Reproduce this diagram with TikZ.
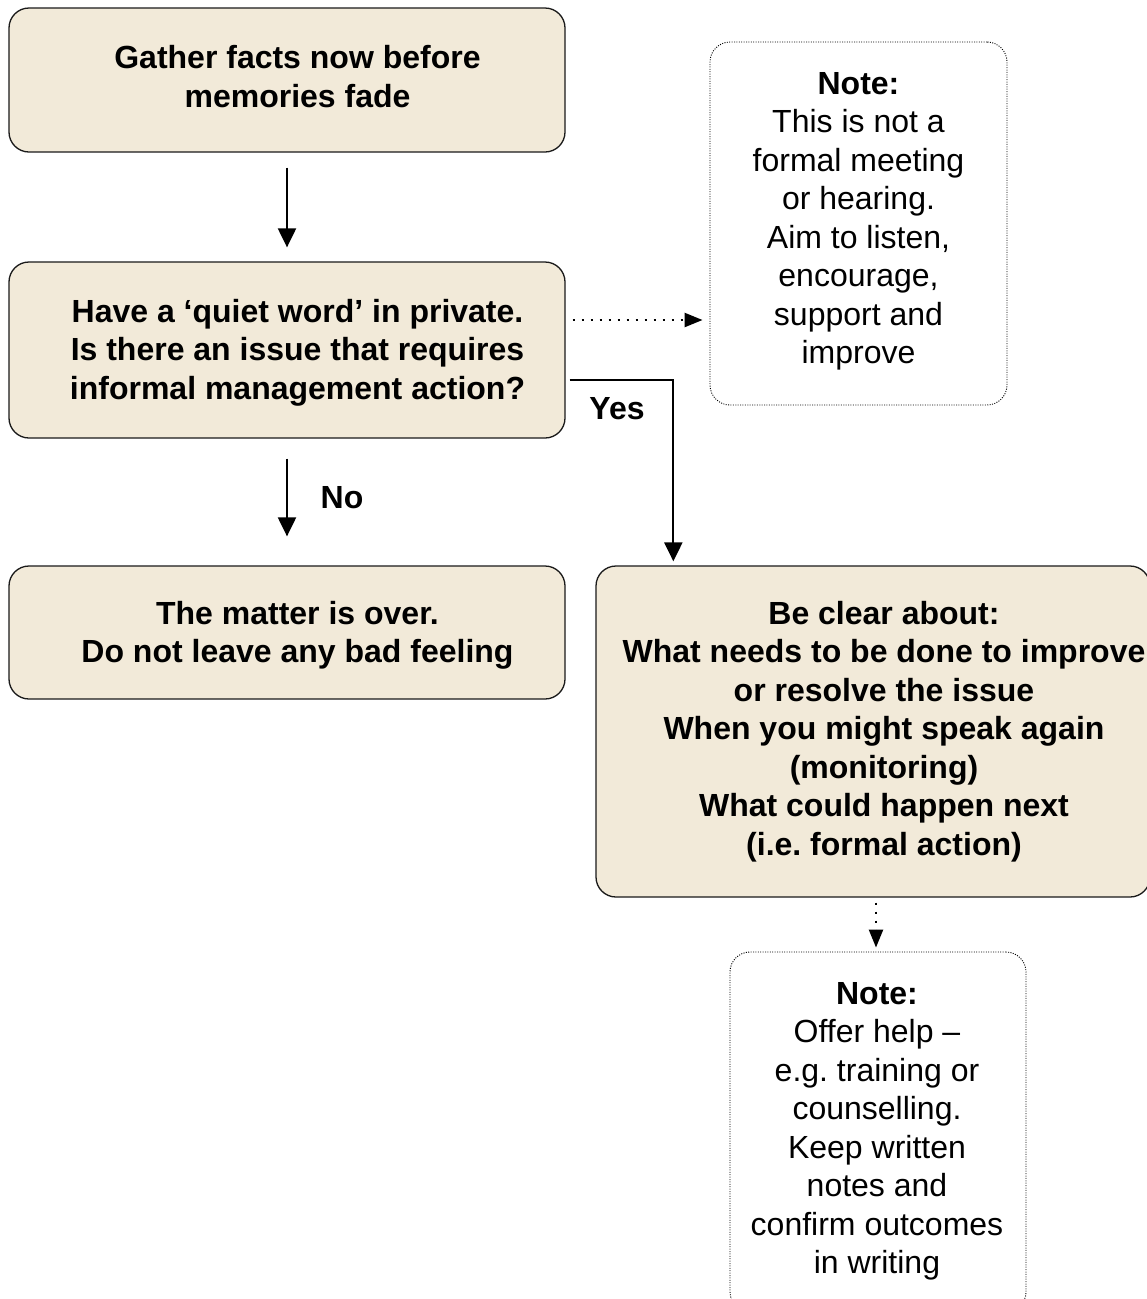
\documentclass[tikz,border=0pt]{standalone}
\usepackage{fontspec}
\setmainfont{Liberation Sans}
\usetikzlibrary{arrows.meta,calc}
\definecolor{boxfill}{HTML}{F2EAD9}
\definecolor{boxline}{HTML}{1A1A1A}
\begin{document}
\frenchspacing
\begin{tikzpicture}[x=1pt,y=-1pt,
  box/.style={draw=boxline,fill=boxfill,line width=1.3pt,rounded corners=20pt,inner sep=0pt,shape=rectangle},
  notebox/.style={draw=black,line width=0.9pt,dash pattern=on 1pt off 1.4pt,rounded corners=20pt,inner sep=0pt,shape=rectangle},
  txt/.style={align=center,inner sep=0pt,font=\fontsize{32}{38.5}\selectfont},
  btxt/.style={txt,font=\fontsize{32}{38.5}\selectfont\bfseries},
  arr/.style={line width=2.2pt,-{Triangle[length=19pt,width=18pt]}},
  dotarr/.style={line width=2.4pt,dash pattern=on 2.2pt off 6.8pt,-{Triangle[length=18pt,width=14pt]}}
]
\useasboundingbox (0,0) rectangle (1147,1299);
\fill[white] (0,0) rectangle (1147,1299);

% boxes
\node[box,minimum width=556pt,minimum height=144pt] (b1) at (287,80) {};
\node[box,minimum width=556pt,minimum height=176pt] (b2) at (287,350) {};
\node[box,minimum width=556pt,minimum height=133pt] (b3) at (287,632.5) {};
\node[box,minimum width=554pt,minimum height=331pt] (b4) at (873,731.5) {};
\node[notebox,minimum width=297pt,minimum height=363pt] (n1) at (858.5,223.5) {};
\node[notebox,minimum width=296pt,minimum height=360pt] (n2) at (878,1132) {};

% texts
\node[btxt] (t1) at (297.5,76.5) {Gather facts now before\\memories fade};
\node[btxt] (t2) at (297.5,352.5) {Have a ‘quiet word’ in private.\\Is there an issue that requires\\informal management action?};
\node[btxt] (t3) at (297.5,635.5) {The matter is over.\\Do not leave any bad feeling};
\node[btxt] (t4) at (884,731.5) {Be clear about:\\What needs to be done to improve\\or resolve the issue\\When you might speak again\\(monitoring)\\What could happen next\\(i.e. formal action)};
\node[txt] (t5) at (858.5,221.5) {\textbf{Note:}\\This is not a\\formal meeting\\or hearing.\\Aim to listen,\\encourage,\\support and\\improve};
\node[txt] (t6) at (877,1131.5) {\textbf{Note:}\\Offer help –\\e.g. training or\\counselling.\\Keep written\\notes and\\confirm outcomes\\in writing};

% connectors
\draw[arr,shorten <=15pt,shorten >=14pt] (b1.south) -- (b2.north);
\draw[arr,shorten <=20pt,shorten >=29pt] (b2.south) -- (b3.north);
\node[btxt] (no) at (342,498) {No};
\draw[arr] ($(b2.east)+(4,30)$) -| ($(b4.north west)+(78,-4)$);
\node[btxt] (yes) at (617,409) {Yes};
\draw[dotarr] ($(b2.east)+(7,-30)$) -- ($(n1.west)+(-7,96.5)$);
\draw[dotarr] ($(b4.south)+(3,5)$) -- ($(n2.north)+(-2,-4)$);
\end{tikzpicture}
\end{document}
